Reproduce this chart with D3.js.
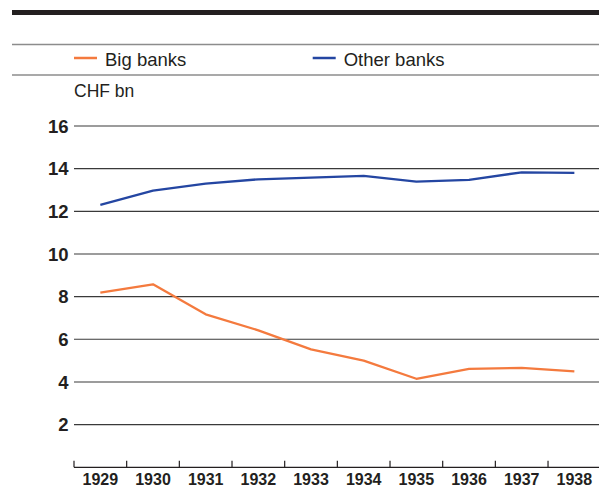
<!DOCTYPE html>
<html>
<head>
<meta charset="utf-8">
<script src="https://cdn.jsdelivr.net/npm/d3@7"></script>
<style>
  html, body { margin: 0; padding: 0; background: #fff; }
  svg { display: block; font-family: "Liberation Sans", Arial, sans-serif; }
</style>
</head>
<body>
<svg id="chart" width="599" height="486"></svg>
<script>
const years = ["1929","1930","1931","1932","1933","1934","1935","1936","1937","1938"];
const bigBanks = [8.19, 8.58, 7.17, 6.42, 5.53, 5.00, 4.15, 4.61, 4.66, 4.50];
const otherBanks = [12.30, 12.97, 13.30, 13.50, 13.58, 13.66, 13.39, 13.47, 13.83, 13.80];
const yTicks = [2, 4, 6, 8, 10, 12, 14, 16];
const seriesNames = ["Big banks", "Other banks"];
const unitLabel = "CHF bn";

const colors = { big: "#f47a3e", other: "#2446a2" };

const svg = d3.select("#chart");

// Header rules
svg.append("rect").attr("x", 12).attr("y", 10).attr("width", 587).attr("height", 5).attr("fill", "#231f20");
[44.5, 75].forEach(y => {
  svg.append("line").attr("x1", 12).attr("x2", 599).attr("y1", y).attr("y2", y)
    .attr("stroke", "#8c8c8c").attr("stroke-width", 1.5);
});

// Legend
const legendItems = [
  { name: seriesNames[0], color: colors.big, x: 74 },
  { name: seriesNames[1], color: colors.other, x: 312.7 }
];
const lg = svg.append("g");
legendItems.forEach(d => {
  lg.append("line").attr("x1", d.x).attr("x2", d.x + 23).attr("y1", 58).attr("y2", 58)
    .attr("stroke", d.color).attr("stroke-width", 2.5);
  lg.append("text").attr("x", d.x + 31).attr("y", 66).attr("font-size", 18.5)
    .attr("fill", "#231f20").text(d.name);
});

// Unit label
svg.append("text").attr("x", 74).attr("y", 96.7).attr("font-size", 17.5).attr("fill", "#231f20").text(unitLabel);

// Scales
const x = d3.scaleBand().domain(years).range([74, 600.7]).padding(0);
const y = d3.scaleLinear().domain([0, 16]).range([467.3, 126]);

// Gridlines
const grid = svg.append("g");
grid.selectAll("line").data(yTicks).join("line")
  .attr("x1", 74).attr("x2", 599)
  .attr("y1", d => y(d)).attr("y2", d => y(d))
  .attr("stroke", "#3a3a3a").attr("stroke-width", 1.1);

// Y labels
svg.append("g").selectAll("text").data(yTicks).join("text")
  .attr("x", 68.5).attr("y", d => y(d)).attr("dy", "0.36em")
  .attr("text-anchor", "end").attr("font-size", 18.5).attr("font-weight", "bold")
  .attr("fill", "#231f20").text(d => d);

// X axis
const xAxis = svg.append("g");
xAxis.append("line").attr("x1", 74).attr("x2", 599).attr("y1", y(0)).attr("y2", y(0))
  .attr("stroke", "#231f20").attr("stroke-width", 1.3);
xAxis.selectAll("line.tick").data(years).join("line").attr("class", "tick")
  .attr("x1", d => x(d)).attr("x2", d => x(d))
  .attr("y1", y(0)).attr("y2", y(0) - 6.5)
  .attr("stroke", "#231f20").attr("stroke-width", 1.2);
xAxis.selectAll("text").data(years).join("text")
  .attr("x", d => x(d) + x.bandwidth() / 2).attr("y", 484.5)
  .attr("text-anchor", "middle").attr("font-size", 16).attr("font-weight", "bold")
  .attr("fill", "#231f20").text(d => d);

// Lines
const line = d3.line()
  .x((d, i) => x(years[i]) + x.bandwidth() / 2)
  .y(d => y(d));

svg.append("path").datum(otherBanks).attr("d", line)
  .attr("fill", "none").attr("stroke", colors.other).attr("stroke-width", 2.3)
  .attr("stroke-linejoin", "round");
svg.append("path").datum(bigBanks).attr("d", line)
  .attr("fill", "none").attr("stroke", colors.big).attr("stroke-width", 2.3)
  .attr("stroke-linejoin", "round");
</script>
</body>
</html>
